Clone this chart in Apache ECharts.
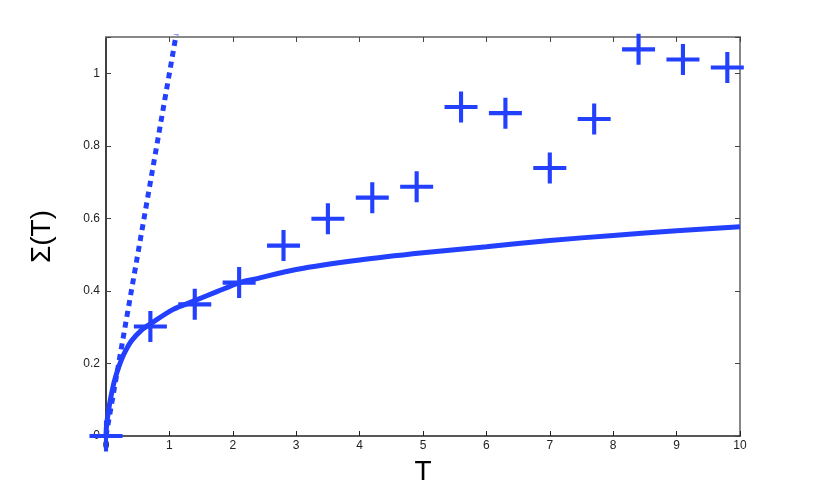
<!DOCTYPE html>
<html><head><meta charset="utf-8">
<script src="https://cdn.jsdelivr.net/npm/echarts@6/dist/echarts.min.js"></script>
<style>html,body{margin:0;padding:0;background:#fff}#c{width:817px;height:491px}</style>
</head><body><div id="c"></div>
<script>
// Measured points (plus markers)
const markerT = [0, 0.7, 1.4, 2.1, 2.8, 3.5, 4.2, 4.9, 5.6, 6.3, 7.0, 7.7, 8.4, 9.1, 9.8];
const markerS = [0, 0.302, 0.363, 0.423, 0.525, 0.599, 0.657, 0.687, 0.907, 0.89, 0.739, 0.874, 1.066, 1.038, 1.016];
// Solid curve
const curveT = [0, 0.01, 0.04, 0.08, 0.13, 0.2, 0.28, 0.4, 0.56, 0.69, 1.06, 1.37, 1.75, 2.11, 2.38, 3.0, 4.0, 5.0, 6.0, 7.0, 8.0, 9.0, 10.0];
const curveS = [0, 0.03, 0.07, 0.11, 0.15, 0.19, 0.225, 0.262, 0.292, 0.308, 0.349, 0.371, 0.398, 0.423, 0.434, 0.459, 0.485, 0.505, 0.522, 0.539, 0.553, 0.566, 0.577];
// Dashed line
const dashT = [0, 1.2];
const dashS = [0, 1.2];
const xTicks = [0,1,2,3,4,5,6,7,8,9,10];
const yTicks = [0,0.2,0.4,0.6,0.8,1];

const blue = '#2340ff';
const zip = (a,b) => a.map((v,i)=>[v,b[i]]);
const font = 'Liberation Sans, Arial, Helvetica, sans-serif';

const chart = echarts.init(document.getElementById('c'));
chart.setOption({
  animation:false,
  grid:{left:106,right:77,top:37,bottom:54,containLabel:false},
  xAxis:[{
    type:'value',min:0,max:10,interval:1,position:'bottom',
    name:'T',nameLocation:'middle',nameGap:22,
    nameTextStyle:{fontFamily:font,fontSize:28,color:'#000'},
    axisLine:{show:true,onZero:false,lineStyle:{color:'#222',width:1.5}},
    axisTick:{show:true,inside:true,length:5,lineStyle:{color:'#222'}},
    axisLabel:{fontFamily:font,fontSize:12,color:'#222',margin:4,
      formatter:v=>xTicks.includes(v)?String(v):''},
    splitLine:{show:false}
  },{
    type:'value',min:0,max:10,interval:1,position:'top',
    axisLine:{show:true,onZero:false,lineStyle:{color:'#888',width:2}},
    axisTick:{show:true,inside:true,length:5,lineStyle:{color:'#444'}},
    axisLabel:{show:false},splitLine:{show:false}
  }],
  yAxis:[{
    type:'value',min:0,max:1.1,interval:0.2,position:'left',
    name:'Σ(T)',nameLocation:'middle',nameGap:50,nameRotate:90,
    nameTextStyle:{fontFamily:font,fontSize:28,color:'#000'},
    axisLine:{show:true,onZero:false,lineStyle:{color:'#000',width:1.5}},
    axisTick:{show:true,inside:true,length:5,lineStyle:{color:'#444'}},
    axisLabel:{fontFamily:font,fontSize:12,color:'#222',margin:6,
      formatter:v=>{const r=Math.round(v*10)/10; return yTicks.some(t=>Math.abs(t-r)<1e-6)&&Math.abs(v-r)<1e-6?String(r):'';}},
    splitLine:{show:false}
  },{
    type:'value',min:0,max:1.1,interval:0.2,position:'right',
    axisLine:{show:true,onZero:false,lineStyle:{color:'#888',width:2}},
    axisTick:{show:true,inside:true,length:5,lineStyle:{color:'#444'}},
    axisLabel:{show:false},splitLine:{show:false}
  }],
  series:[
    {type:'line',data:zip(dashT,dashS),showSymbol:false,clip:true,
     lineStyle:{color:blue,width:5,type:[6,5]},z:2},
    {type:'line',data:zip(curveT,curveS),showSymbol:false,smooth:0.3,clip:true,
     lineStyle:{color:blue,width:5},z:3},
    {type:'scatter',data:zip(markerT,markerS),clip:false,
     symbol:'path://M0,13L32,13L32,17L0,17Z M14,0L18,0L18,30L14,30Z',
     symbolSize:[33,31],itemStyle:{color:blue,opacity:1},z:4}
  ]
});
</script></body></html>
